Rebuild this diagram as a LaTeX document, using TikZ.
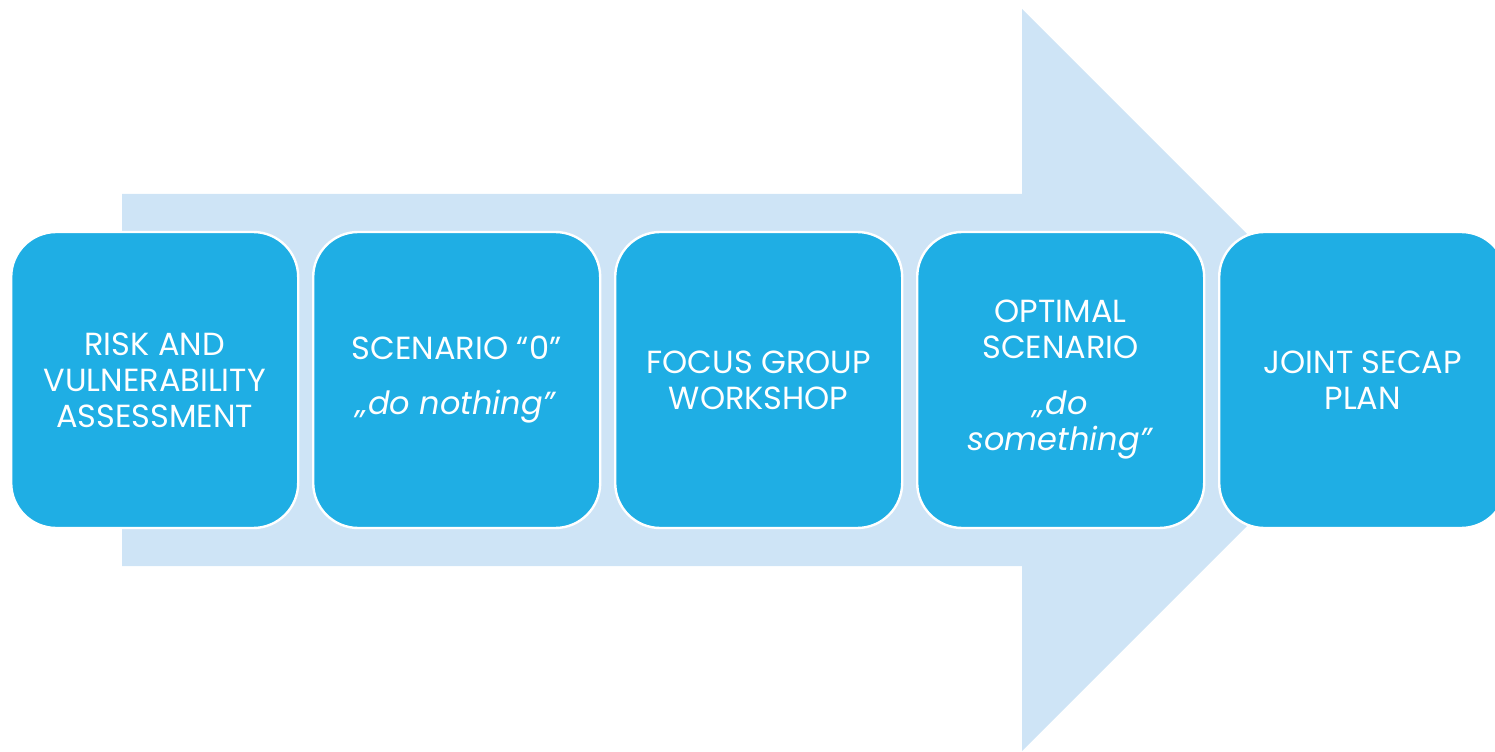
\documentclass[tikz,border=0pt]{standalone}
\usepackage{fontspec}
\setmainfont{Poppins}
\usepackage{tikz}
\usetikzlibrary{positioning}

\definecolor{stageblue}{RGB}{31,174,228}
\definecolor{arrowblue}{RGB}{206,228,246}

\begin{document}
\begin{tikzpicture}[x=0.5pt, y=0.5pt]
    \tikzstyle{stage} = [
        rectangle, rounded corners=22.5pt, draw=white, line width=1.2pt,
        fill=stageblue, text=white, align=center, inner sep=0pt,
        minimum width=143.5pt, minimum height=148pt,
        font=\fontsize{16}{18}\selectfont
    ]

    \useasboundingbox (0,0) rectangle (1495,751);
    \clip (0,0) rectangle (1495,751);

    % Background arrow
    \fill[arrowblue] (122,557) -- (1022,557) -- (1022,742) -- (1393,371)
        -- (1022,0) -- (1022,185) -- (122,185) -- cycle;

    % Stage boxes
    \node[stage, anchor=west] (risk) at (10,371) {
        RISK AND\\VULNERABILITY\\ASSESSMENT
    };
    \node[stage, anchor=west, xshift=6.3pt] (scenario0) at (risk.east) {
        SCENARIO “0”\\[9.5pt]\textit{„do nothing”}
    };
    \node[stage, anchor=west, xshift=6.3pt] (focus) at (scenario0.east) {
        FOCUS GROUP\\WORKSHOP
    };
    \node[stage, anchor=west, xshift=6.3pt] (optimal) at (focus.east) {
        OPTIMAL\\SCENARIO\\[10pt]\textit{„do}\\\textit{something”}
    };
    \node[stage, anchor=west, xshift=6.3pt] (secap) at (optimal.east) {
        JOINT SECAP\\PLAN
    };

\end{tikzpicture}
\end{document}
